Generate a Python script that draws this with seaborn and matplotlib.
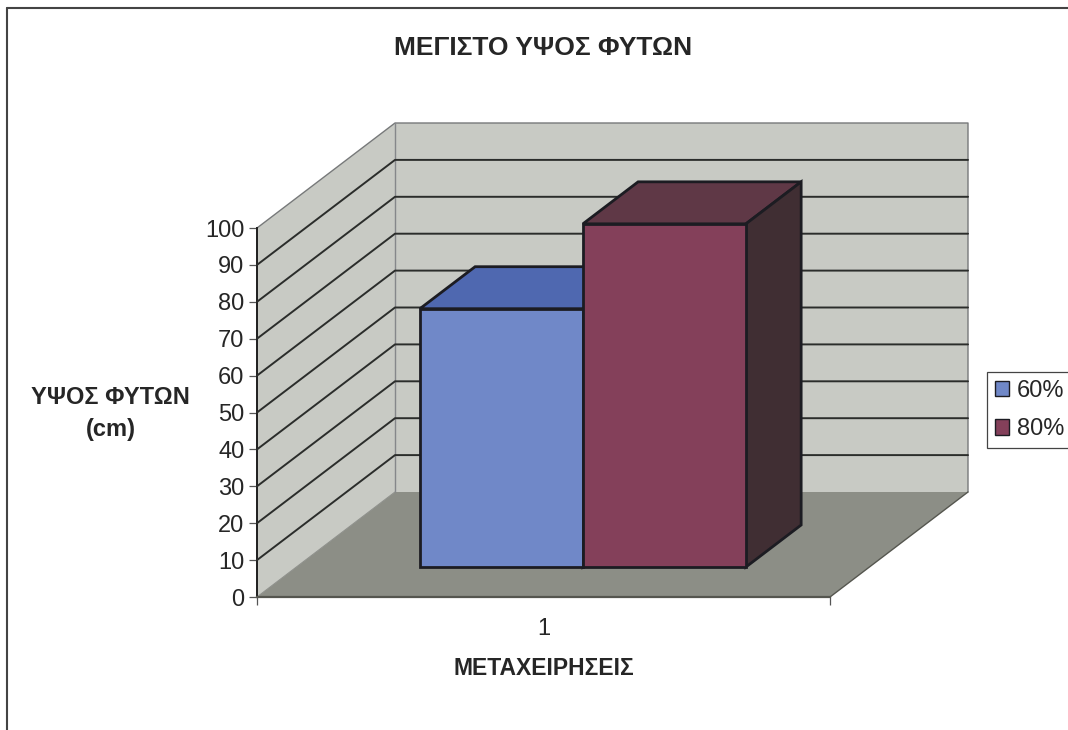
import pandas as pd
import numpy as np
import matplotlib
matplotlib.use("Agg")
import matplotlib.pyplot as plt
import seaborn as sns
from matplotlib.patches import Polygon, Patch
from matplotlib.lines import Line2D
from matplotlib.transforms import Affine2D, IdentityTransform

# values
groups = ["1", "1"]
treatments = ["60%", "80%"]
heights = [70, 93]
y_ticks = [0, 10, 20, 30, 40, 50, 60, 70, 80, 90, 100]

title = "ΜΕΓΙΣΤΟ ΥΨΟΣ ΦΥΤΩΝ"
x_title = "ΜΕΤΑΧΕΙΡΗΣΕΙΣ"
y_title = "ΥΨΟΣ ΦΥΤΩΝ\n(cm)"

front_colors = ["#7088c8", "#84405a"]
top_colors = ["#4f68b0", "#5f3846"]
side_colors = ["#33405f", "#402e33"]
wall_color = "#c8cac4"
floor_color = "#8c8e86"
edge_dark = "#1c1c22"
text_color = "#262626"

df = pd.DataFrame({"group": groups, "treatment": treatments, "height": heights})

sns.set_theme(style="white")
plt.rcParams["font.family"] = ["Liberation Sans", "DejaVu Sans"]

W, H = 1068, 730
fig = plt.figure(figsize=(W / 100, H / 100), dpi=100)
fig.patch.set_facecolor("white")
ax = fig.add_axes([257 / W, (H - 597) / H, (830 - 257) / W, (597 - 228) / H])
ax.patch.set_alpha(0)

sns.barplot(data=df, x="group", y="height", hue="treatment", palette=front_colors,
            hue_order=treatments, width=0.569, gap=0, saturation=1, legend=False,
            edgecolor=edge_dark, linewidth=2.0, zorder=6, ax=ax)
ax.set_ylim(0, 100)
ax.set_xlim(-0.5, 0.5)

# 3d look: depth of the whole box in pixels
DEPTH = np.array([138.0, 105.0])
BAR_FRONT = 30 / 105
BAR_BACK = 72 / 105


def px(x, y, d=0.0):
    return ax.transData.transform((x, y)) + d * DEPTH


def face(points, color, zorder, ec="none", lw=0.0):
    ax.add_patch(Polygon(points, closed=True, facecolor=color, edgecolor=ec, linewidth=lw,
                         transform=IdentityTransform(), clip_on=False, zorder=zorder))


def line(points, color, lw, zorder):
    pts = np.array(points)
    ax.add_line(Line2D(pts[:, 0], pts[:, 1], color=color, lw=lw, transform=IdentityTransform(),
                       clip_on=False, zorder=zorder))


x0, x1 = ax.get_xlim()
y0, y1 = ax.get_ylim()

# walls and floor
face([px(x0, y0), px(x0, y1), px(x0, y1, 1), px(x0, y0, 1)], wall_color, 1)
face([px(x0, y0, 1), px(x0, y1, 1), px(x1, y1, 1), px(x1, y0, 1)], wall_color, 1)
face([px(x0, y0), px(x1, y0), px(x1, y0, 1), px(x0, y0, 1)], floor_color, 1)

line([px(x0, y1), px(x0, y1, 1), px(x1, y1, 1), px(x1, y0, 1)], "#77797a", 1.0, 2)
line([px(x0, y0, 1), px(x0, y1, 1)], "#85878a", 1.0, 2)
line([px(x0, y0), px(x0, y0, 1)], "#8f918c", 0.8, 2)
line([px(x1, y0), px(x1, y0, 1)], "#55564f", 1.0, 2)

for t in y_ticks[1:-1]:
    line([px(x0, t), px(x0, t, 1), px(x1, t, 1)], "#2b2d2b", 1.4, 3)

# bars, moved back into the box, then their top and side faces
shift = Affine2D().translate(*(BAR_FRONT * DEPTH))
bars = [c[0] for c in ax.containers]
for i, bar in enumerate(bars):
    bar.set_transform(ax.transData + shift)
    bar.set_clip_on(False)
    left, right = bar.get_x(), bar.get_x() + bar.get_width()
    top = bar.get_height()
    z = 4 + i
    face([px(left, top, BAR_FRONT), px(right, top, BAR_FRONT),
          px(right, top, BAR_BACK), px(left, top, BAR_BACK)], top_colors[i], z, edge_dark, 2.0)
    face([px(right, 0, BAR_FRONT), px(right, top, BAR_FRONT),
          px(right, top, BAR_BACK), px(right, 0, BAR_BACK)], side_colors[i], z, edge_dark, 2.0)
    bar.set_zorder(z + 0.5)

# axes
sns.despine(ax=ax, top=True, right=True)
ax.spines["left"].set_color("#1e1e1e")
ax.spines["left"].set_linewidth(1.4)
ax.spines["bottom"].set_color("#55564f")
ax.spines["bottom"].set_linewidth(1.6)
ax.set_yticks(y_ticks)
ax.set_xticks([0])
ax.set_xticks([x0, x1], minor=True)
ax.tick_params(axis="y", left=True, length=6, width=0.9, color="#555555", labelsize=17,
               labelcolor=text_color, pad=3)
ax.tick_params(axis="x", which="major", bottom=False, labelsize=17, labelcolor=text_color, pad=9)
ax.tick_params(axis="x", which="minor", bottom=True, length=6, width=0.9, color="#555555")

ax.set_xlabel(x_title, fontsize=16.5, fontweight="bold", color=text_color, va="center")
ax.xaxis.set_label_coords(0.5, -0.195)
ax.set_ylabel(y_title, fontsize=17, fontweight="bold", color=text_color, rotation=0,
              ha="center", va="center", linespacing=1.5)
ax.yaxis.set_label_coords(-0.255, 0.496)
ax.set_title(title, fontsize=19, fontweight="bold", color=text_color, y=1.466, va="center")

handles = [Patch(facecolor=c, edgecolor=edge_dark, linewidth=1.0) for c in front_colors]
leg = fig.legend(handles, treatments, loc="center left", bbox_to_anchor=(987 / W, (H - 410) / H),
                 bbox_transform=fig.transFigure, fontsize=17, frameon=True, fancybox=False,
                 framealpha=1, edgecolor="#444444", handlelength=0.62, handleheight=0.62,
                 handletextpad=0.33, labelspacing=0.7, borderpad=0.32, borderaxespad=0,
                 labelcolor=text_color)
leg.get_frame().set_linewidth(0.9)

# scanned page frame, top and left only
fig.add_artist(Line2D([7 / W, 7 / W], [0, (H - 8) / H], color="#444444", lw=1.5))
fig.add_artist(Line2D([7 / W, 1], [(H - 8) / H, (H - 8) / H], color="#444444", lw=1.5))

fig.savefig("out.png", dpi=100)
